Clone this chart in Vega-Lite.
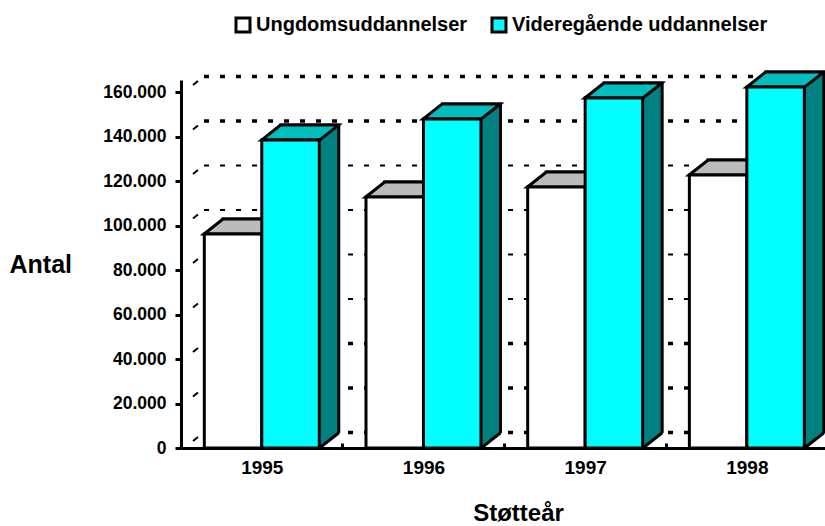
{
"$schema":"https://vega.github.io/schema/vega-lite/v6.json",
"width":644,"height":368,
"autosize":{"type":"none"},
"padding":{"left":181,"top":80,"right":0,"bottom":78},
"background":"white",
"config":{"view":{"stroke":null},"font":"Liberation Sans"},
"data":{"values":[
{"year":"1995","serie":"Ungdomsuddannelser","antal":96200},
{"year":"1995","serie":"Videregående uddannelser","antal":138400},
{"year":"1996","serie":"Ungdomsuddannelser","antal":112800},
{"year":"1996","serie":"Videregående uddannelser","antal":147900},
{"year":"1997","serie":"Ungdomsuddannelser","antal":117300},
{"year":"1997","serie":"Videregående uddannelser","antal":157300},
{"year":"1998","serie":"Ungdomsuddannelser","antal":122700},
{"year":"1998","serie":"Videregående uddannelser","antal":162200}
]},
"layer":[
{"data":{"values":[{"v":0},{"v":20000},{"v":40000},{"v":140000},{"v":160000}]},
 "mark":{"type":"rule","stroke":"black","strokeWidth":3.5,"strokeDash":[5,11],"yOffset":-15.5},
 "encoding":{"y":{"field":"v","type":"quantitative","title":"Antal"},"x":{"value":23},"x2":{"value":644}}},
{"data":{"values":[{"v":60000},{"v":80000},{"v":100000},{"v":120000}]},
 "mark":{"type":"rule","stroke":"black","strokeWidth":2,"strokeDash":[5,11],"yOffset":-15.5},
 "encoding":{"y":{"field":"v","type":"quantitative","title":"Antal"},"x":{"value":23},"x2":{"value":644}}},
{"data":{"values":[{"v":0},{"v":20000},{"v":40000},{"v":60000},{"v":80000},{"v":100000},{"v":120000},{"v":140000},{"v":160000}]},
 "mark":{"type":"point","shape":"M12,-7L17,-11","size":4,"filled":false,"stroke":"black","strokeWidth":2,"opacity":1},
 "encoding":{"y":{"field":"v","type":"quantitative","title":"Antal"},"x":{"value":0}}},
{"transform":[{"filter":"datum.serie==='Ungdomsuddannelser'"}],
 "mark":{"type":"bar","width":58,"fill":"#008080","stroke":"black","strokeWidth":3,"xOffset":-10,"yOffset":-15,"y2Offset":0},
 "encoding":{"x":{"field":"year","type":"nominal","title":"Støtteår"},
  "y":{"field":"antal","type":"quantitative","title":"Antal","stack":null},"y2":{"datum":0}}},
{"transform":[{"filter":"datum.serie!=='Ungdomsuddannelser'"}],
 "mark":{"type":"bar","width":58,"fill":"#008080","stroke":"black","strokeWidth":3,"xOffset":48,"yOffset":-15,"y2Offset":0},
 "encoding":{"x":{"field":"year","type":"nominal","title":"Støtteår"},
  "y":{"field":"antal","type":"quantitative","title":"Antal","stack":null},"y2":{"datum":0}}},
{"mark":{"type":"point","shape":"M29,2L29,0L51,-16L51,2Z","size":4,"filled":true,"fill":"white","stroke":null,"opacity":1},
 "encoding":{"x":{"field":"year","type":"nominal","title":"Støtteår"},"xOffset":{"field":"serie"},
  "y":{"datum":0,"type":"quantitative","title":"Antal"}}},
{"mark":{"type":"point","shape":"M29,0L48,-15","size":4,"filled":false,"stroke":"black","strokeWidth":3,"opacity":1},
 "encoding":{"x":{"field":"year","type":"nominal","title":"Støtteår"},"xOffset":{"field":"serie"},
  "y":{"datum":0,"type":"quantitative","title":"Antal"}}},
{"mark":{"type":"point","shape":"M-29,0L-10,-15L48,-15L29,0Z","size":4,"filled":true,"stroke":"black","strokeWidth":3,"opacity":1},
 "encoding":{"x":{"field":"year","type":"nominal","title":"Støtteår"},"xOffset":{"field":"serie"},
  "y":{"field":"antal","type":"quantitative","title":"Antal"},
  "fill":{"condition":{"test":"datum.serie==='Ungdomsuddannelser'","value":"#bbbbbb"},"value":"#00bebe"}}},
{"mark":{"type":"bar","stroke":"black","strokeWidth":3},
 "encoding":{
  "x":{"field":"year","type":"nominal","scale":{"paddingInner":0.289,"paddingOuter":0.136,"align":0.53},
   "title":"Støtteår",
   "axis":{"zindex":1,"labelAngle":0,"labelAlign":"center","labelOffset":81,"labelFontSize":19,"labelFontWeight":"bold","labelColor":"black","labelPadding":24,
    "domainColor":"black","domainWidth":3,"tickColor":"black","tickWidth":3,"tickSize":-5,"tickBand":"center","tickOffset":-81,
    "titleFontSize":24,"titleFontWeight":"bold","titleColor":"black","titleX":337,"titleY":72,"titleAlign":"center","titleBaseline":"alphabetic"}},
  "xOffset":{"field":"serie","scale":{"paddingInner":0,"paddingOuter":0}},
  "y":{"field":"antal","type":"quantitative","stack":null,"scale":{"domain":[0,165400],"nice":false},
   "title":"Antal",
   "axis":{"zindex":1,"grid":false,"values":[0,20000,40000,60000,80000,100000,120000,140000,160000],
    "labelExpr":"replace(format(datum.value,','),',','.')",
    "labelFontSize":17.5,"labelFontWeight":"bold","labelColor":"black","labelPadding":9,
    "domainColor":"black","domainWidth":3,"tickColor":"black","tickWidth":3,"tickSize":6,
    "titleFontSize":25,"titleFontWeight":"bold","titleColor":"black","titleAngle":0,"titleX":-172,"titleY":192,"titleAlign":"left","titleBaseline":"alphabetic"}},
  "color":{"field":"serie","type":"nominal","title":null,
   "scale":{"domain":["Ungdomsuddannelser","Videregående uddannelser"],"range":["#ffffff","#00ffff"]},
   "legend":{"orient":"none","legendX":52,"legendY":-65,"direction":"horizontal","columns":2,"symbolType":"square","symbolSize":196,"symbolStrokeColor":"black","symbolStrokeWidth":3,"symbolOpacity":1,
    "labelFontSize":20,"labelFontWeight":"bold","labelColor":"black","labelOffset":3,"columnPadding":18,"labelLimit":400}}}}
]}
